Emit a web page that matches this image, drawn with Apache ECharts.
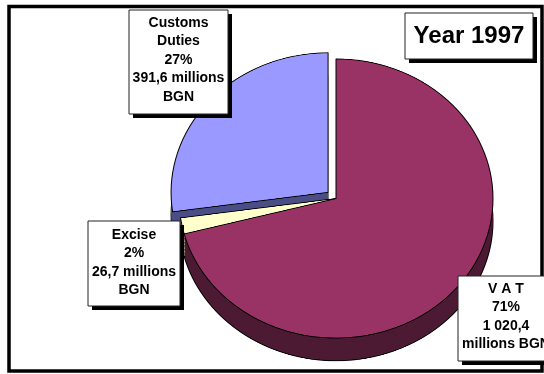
<!DOCTYPE html>
<html><head><meta charset="utf-8">
<script src="https://cdn.jsdelivr.net/npm/echarts@6/dist/echarts.min.js"></script>
<style>
html,body{margin:0;padding:0;background:#fff;width:544px;height:374px;overflow:hidden}
#pie{position:absolute;left:0;top:0;width:544px;height:421px;transform:scaleY(0.889);transform-origin:0 0}
#over{position:absolute;left:0;top:0;width:544px;height:374px}
</style></head><body>
<div id="pie"></div><div id="over"></div>
<script>
// ---- data ----
const categories = ['V A T', 'Excise', 'Customs Duties'];
const values = [1020.4, 26.7, 391.6];
const valueLabels = ['1 020,4', '26,7', '391,6'];
const unit = 'millions BGN';
const titleText = 'Year 1997';

// ---- styles ----
const topColors = ['#993366', '#ffffcc', '#9999ff'];
const sideColors = ['#4d1a33', '#9a9a78', '#4b4e86'];
const K = 0.889;            // vertical squash (perspective)
const CX = 336, CY = 223.3, R = 157;
const DEPTH = 25.5;

const total = values.reduce((a, b) => a + b, 0);
const pct = values.map(v => Math.round(v / total * 100) + '%');

function pieSeries(offset, colors, withBorder, z) {
  return {
    type: 'pie',
    silent: true,
    animation: false,
    z: z,
    center: [CX, CY + offset],
    radius: [0, R],
    startAngle: 90,
    clockwise: true,
    selectedMode: 'single',
    selectedOffset: 10.5,
    label: { show: false },
    labelLine: { show: false },
    emphasis: { disabled: true },
    itemStyle: {
      borderColor: withBorder ? '#000' : 'transparent',
      borderWidth: withBorder ? 1 : 0
    },
    data: values.map((v, i) => ({
      value: v,
      name: categories[i],
      selected: i === 2,
      itemStyle: { color: colors[i] }
    }))
  };
}

const series = [];
const offsets = [DEPTH, 21, 17, 13, 9, 5, 2];
offsets.forEach((o, idx) => series.push(pieSeries(o, sideColors, idx === 0, idx + 1)));
series.push(pieSeries(0, topColors, true, 20));

const pie = echarts.init(document.getElementById('pie'), null, { devicePixelRatio: 2 });
pie.setOption({ animation: false, series: series });

// ---- overlay: frame, label boxes, title ----
const FONT = 'bold 14px "Liberation Sans", Arial, sans-serif';
const LH = 18.5;
function box(x, y, w, h, lines, tx, ty, font, lh) {
  return [
    { type: 'rect', shape: { x: x + 4, y: y + 4, width: w, height: h }, style: { fill: '#000' }, z: 10 },
    { type: 'rect', shape: { x: x, y: y, width: w, height: h }, style: { fill: '#fff', stroke: '#222', lineWidth: 1 }, z: 11 },
    { type: 'text', x: tx, y: ty, z: 12,
      style: { text: lines.join('\n'), font: font || FONT, fill: '#000', align: 'center', verticalAlign: 'top', lineHeight: lh || LH } }
  ];
}
const custName = categories[2].split(' ');
const elements = [
  { type: 'rect', shape: { x: 9, y: 6.5, width: 533, height: 364.5 }, style: { fill: 'none', stroke: '#000', lineWidth: 3.5 }, z: 5 }
]
.concat(box(129, 10, 99, 104, [custName[0], custName[1], pct[2], valueLabels[2] + ' millions', 'BGN'], 178.5, 23 - LH / 2))
.concat(box(88, 221, 92, 85, [categories[1], pct[1], valueLabels[1] + ' millions', 'BGN'], 134, 235 - LH / 2))
.concat(box(458, 276, 94, 85, [categories[0], pct[0], valueLabels[0], unit], 506, 289 - LH / 2))
.concat(box(405, 13, 128, 46, [titleText], 469, 22, 'bold 24px "Liberation Sans", Arial, sans-serif', 28));

const over = echarts.init(document.getElementById('over'));
over.setOption({ animation: false, graphic: { elements: elements } });
</script>
</body></html>
